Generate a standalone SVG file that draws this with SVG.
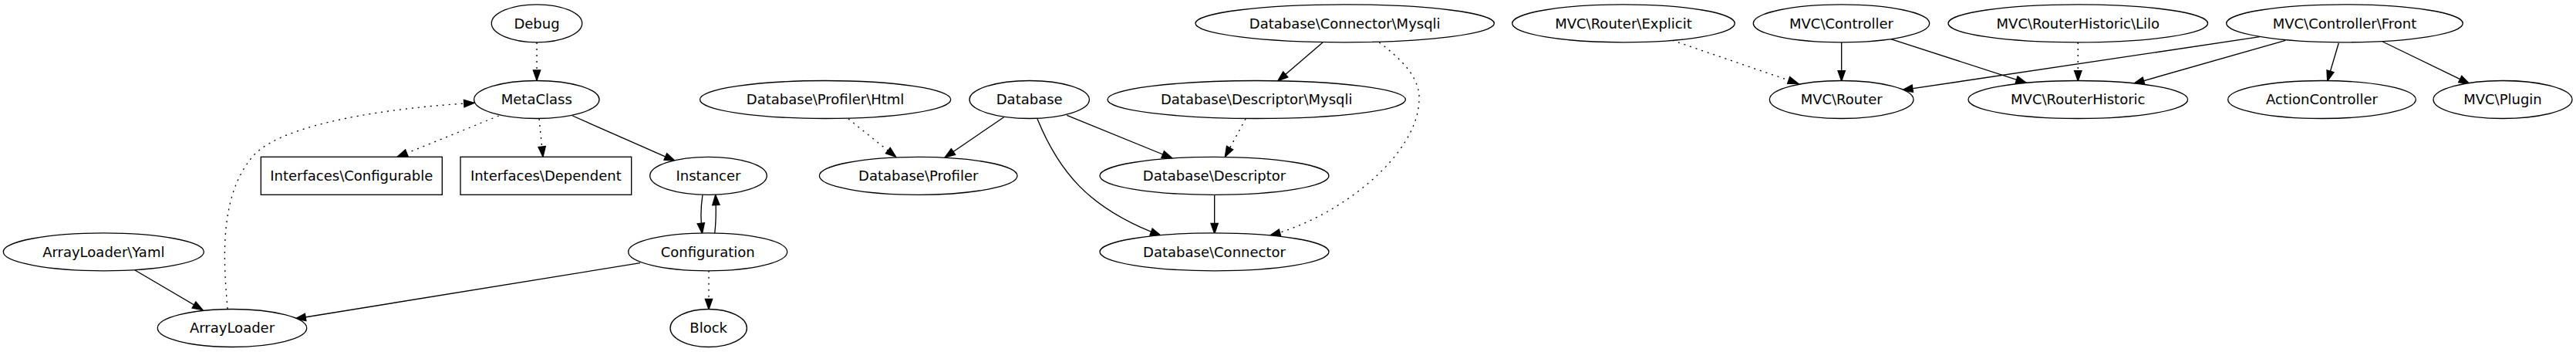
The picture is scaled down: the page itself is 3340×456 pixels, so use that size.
<svg xmlns="http://www.w3.org/2000/svg" width="3340" height="456" viewBox="0 0 3340 456">
<style>
.n ellipse,.n rect{fill:#fff;stroke:#000;stroke-width:1.33}
.n text{font-family:"DejaVu Sans","Liberation Sans",sans-serif;font-size:18px;text-anchor:middle;fill:#000}
.e path{fill:none;stroke:#000;stroke-width:1.33}
.e path.d{stroke-dasharray:2,6}
</style>
<defs>
<marker id="ah" markerUnits="userSpaceOnUse" markerWidth="16" markerHeight="12" refX="13.3" refY="5" orient="auto" overflow="visible">
<polygon points="0,0.33 13.3,5 0,9.67" fill="#000" stroke="#000" stroke-width="1.33"/>
</marker>
</defs>
<rect width="3340" height="456" fill="#fff"/>
<g id="edges" class="e">
<path class="d" d="M696,55 L696,104.3" marker-end="url(#ah)"/>
<path class="d" d="M646.7,150 L515,203.3" marker-end="url(#ah)"/>
<path class="d" d="M699,154 L704,203.3" marker-end="url(#ah)"/>
<path d="M742.3,150 L875,208.3" marker-end="url(#ah)"/>
<path d="M911,252.5 C908.5,268 908.5,287 910.5,302.5" marker-end="url(#ah)"/>
<path d="M926.7,302 C928.5,287 928.5,268 927.7,252.3" marker-end="url(#ah)"/>
<path d="M830,340.7 L383,413" marker-end="url(#ah)"/>
<path class="d" d="M919,350.7 L919,400.7" marker-end="url(#ah)"/>
<path d="M175,350 L263,401.7" marker-end="url(#ah)"/>
<path class="d" d="M295,400 C289,330 285,250 330,200 C370,160 500,140 615,133.3" marker-end="url(#ah)"/>
<path class="d" d="M1100,154 L1161.7,203.3" marker-end="url(#ah)"/>
<path d="M1301.7,151.7 L1225,204" marker-end="url(#ah)"/>
<path d="M1383.3,149.3 L1520,205" marker-end="url(#ah)"/>
<path d="M1345,154 C1372,220 1410,270 1505,305" marker-end="url(#ah)"/>
<path d="M1715,55 L1656.7,105" marker-end="url(#ah)"/>
<path class="d" d="M1788.3,55 C1815,75 1842,100 1840,130 C1838,200 1740,280 1646.7,305" marker-end="url(#ah)"/>
<path class="d" d="M1615,154 L1588.3,203.3" marker-end="url(#ah)"/>
<path d="M1574.7,252.3 L1574.7,302.7" marker-end="url(#ah)"/>
<path class="d" d="M2168.3,52.3 L2331.7,108.3" marker-end="url(#ah)"/>
<path d="M2387.7,55 L2387.7,105" marker-end="url(#ah)"/>
<path d="M2451.7,50.7 L2627.3,107.3" marker-end="url(#ah)"/>
<path class="d" d="M2694.3,55 L2694.3,105" marker-end="url(#ah)"/>
<path d="M2930,47.7 L2466.7,116.7" marker-end="url(#ah)"/>
<path d="M2963.3,52.3 L2766.7,108.3" marker-end="url(#ah)"/>
<path d="M3032.3,55.7 L3017.7,105" marker-end="url(#ah)"/>
<path d="M3089.3,54 L3201.7,108.3" marker-end="url(#ah)"/>
</g>
<g id="Debug" class="n"><ellipse cx="696" cy="30.3" rx="58.7" ry="24.5"/><text x="696" y="36.5">Debug</text></g>
<g id="MetaClass" class="n"><ellipse cx="695.8" cy="129" rx="81.2" ry="24.5"/><text x="695.8" y="135.2">MetaClass</text></g>
<g id="InterfacesConfigurable" class="n"><rect x="338.3" y="203.3" width="235" height="49"/><text x="455.8" y="234">Interfaces\Configurable</text></g>
<g id="InterfacesDependent" class="n"><rect x="597" y="203.3" width="221.7" height="49"/><text x="707.8" y="234">Interfaces\Dependent</text></g>
<g id="Instancer" class="n"><ellipse cx="918.5" cy="227.8" rx="75.8" ry="24.5"/><text x="918.5" y="234">Instancer</text></g>
<g id="Configuration" class="n"><ellipse cx="917.7" cy="326.3" rx="103" ry="24.5"/><text x="917.7" y="332.5">Configuration</text></g>
<g id="Block" class="n"><ellipse cx="918.7" cy="425" rx="49.7" ry="24.5"/><text x="918.7" y="431.2">Block</text></g>
<g id="ArrayLoaderYaml" class="n"><ellipse cx="134.3" cy="326.3" rx="130" ry="24.5"/><text x="134.3" y="332.5">ArrayLoader\Yaml</text></g>
<g id="ArrayLoader" class="n"><ellipse cx="301" cy="425" rx="96.7" ry="24.5"/><text x="301" y="431.2">ArrayLoader</text></g>
<g id="DatabaseProfilerHtml" class="n"><ellipse cx="1070.1" cy="129" rx="162.6" ry="24.5"/><text x="1070.1" y="135.2">Database\Profiler\Html</text></g>
<g id="Database" class="n"><ellipse cx="1334.7" cy="129" rx="77.7" ry="24.5"/><text x="1334.7" y="135.2">Database</text></g>
<g id="DatabaseProfiler" class="n"><ellipse cx="1190.7" cy="227.8" rx="128.3" ry="24.5"/><text x="1190.7" y="234">Database\Profiler</text></g>
<g id="DatabaseConnectorMysqli" class="n"><ellipse cx="1743.7" cy="30.3" rx="193.7" ry="24.5"/><text x="1743.7" y="36.5">Database\Connector\Mysqli</text></g>
<g id="DatabaseDescriptorMysqli" class="n"><ellipse cx="1629.2" cy="129" rx="193.2" ry="24.5"/><text x="1629.2" y="135.2">Database\Descriptor\Mysqli</text></g>
<g id="DatabaseDescriptor" class="n"><ellipse cx="1574.5" cy="227.8" rx="148.5" ry="24.5"/><text x="1574.5" y="234">Database\Descriptor</text></g>
<g id="DatabaseConnector" class="n"><ellipse cx="1574.5" cy="326.3" rx="148.5" ry="24.5"/><text x="1574.5" y="332.5">Database\Connector</text></g>
<g id="MVCRouterExplicit" class="n"><ellipse cx="2105" cy="30.3" rx="144.3" ry="24.5"/><text x="2105" y="36.5">MVC\Router\Explicit</text></g>
<g id="MVCController" class="n"><ellipse cx="2387.5" cy="30.3" rx="114.2" ry="24.5"/><text x="2387.5" y="36.5">MVC\Controller</text></g>
<g id="MVCRouterHistoricLilo" class="n"><ellipse cx="2694.3" cy="30.3" rx="168.3" ry="24.5"/><text x="2694.3" y="36.5">MVC\RouterHistoric\Lilo</text></g>
<g id="MVCControllerFront" class="n"><ellipse cx="3040" cy="30.3" rx="153.3" ry="24.5"/><text x="3040" y="36.5">MVC\Controller\Front</text></g>
<g id="MVCRouter" class="n"><ellipse cx="2387.7" cy="129" rx="93.3" ry="24.5"/><text x="2387.7" y="135.2">MVC\Router</text></g>
<g id="MVCRouterHistoric" class="n"><ellipse cx="2694.3" cy="129" rx="142.3" ry="24.5"/><text x="2694.3" y="135.2">MVC\RouterHistoric</text></g>
<g id="ActionController" class="n"><ellipse cx="3010.5" cy="129" rx="121.8" ry="24.5"/><text x="3010.5" y="135.2">ActionController</text></g>
<g id="MVCPlugin" class="n"><ellipse cx="3245" cy="129" rx="90" ry="24.5"/><text x="3245" y="135.2">MVC\Plugin</text></g>
</svg>
